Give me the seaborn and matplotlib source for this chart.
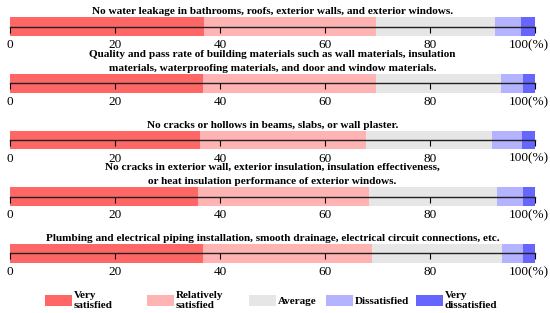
import numpy as np
import pandas as pd
import matplotlib
matplotlib.use("Agg")
import matplotlib.pyplot as plt
import matplotlib.transforms as mtransforms
from matplotlib.patches import Patch
import seaborn as sns

# satisfaction levels and colours
levels = ["Very\nsatisfied", "Relatively\nsatisfied", "Average", "Dissatisfied", "Very\ndissatisfied"]
colors = ["#FF6666", "#FFB3B3", "#E6E6E6", "#B3B3FF", "#6666FF"]

# item titles
titles = [
    "No water leakage in bathrooms, roofs, exterior walls, and exterior windows.",
    "Quality and pass rate of building materials such as wall materials, insulation\n"
    "materials, waterproofing materials, and door and window materials.",
    "No cracks or hollows in beams, slabs, or wall plaster.",
    "No cracks in exterior wall, exterior insulation, insulation effectiveness,\n"
    "or heat insulation performance of exterior windows.",
    "Plumbing and electrical piping installation, smooth drainage, electrical circuit connections, etc.",
]

# share of each level (%) per item
leakage = [37.0, 32.8, 22.6, 4.9, 2.7]
materials = [36.8, 33.0, 23.7, 4.3, 2.2]
cracks = [36.1, 31.8, 24.0, 5.6, 2.5]
exterior = [35.9, 32.4, 24.5, 5.0, 2.2]
plumbing = [36.8, 32.1, 24.8, 4.0, 2.3]
values = [leakage, materials, cracks, exterior, plumbing]

ticks = [0, 20, 40, 60, 80, 100]
tick_labels = ["0", "20", "40", "60", "80", "100(%)"]

plt.rcParams['font.family'] = ['Liberation Serif', 'DejaVu Serif']

fig = plt.figure(figsize=(5.5, 3.13), dpi=100)
W, H = 550, 313

for i, (title, vals) in enumerate(zip(titles, values)):
    top = 17.3 + 56.7 * i
    ax = fig.add_axes([10 / W, 1 - (top + 18.7) / H, 525 / W, 18.7 / H])
    df = pd.DataFrame({"level": levels, "cum": np.cumsum(vals), "row": [""] * 5})
    # draw longest cumulative bar first so shorter ones sit on top
    df = df.iloc[::-1]
    sns.barplot(data=df, x="cum", y="row", hue="level", hue_order=levels[::-1],
                palette=colors[::-1], orient="h", dodge=False, width=1,
                legend=False, ax=ax, saturation=1)
    ax.set_xlim(0, 100)
    ax.set_ylim(0.5, -0.5)
    for s in ["top", "left", "right"]:
        ax.spines[s].set_visible(False)
    ax.spines["bottom"].set_position(("axes", 0.5))
    ax.spines["bottom"].set_linewidth(1.0)
    ax.spines["bottom"].set_color("#222222")
    ax.set_xticks(ticks)
    ax.set_xticklabels(tick_labels)
    ax.tick_params(axis="x", direction="out", length=4, width=0.8, pad=5, labelsize=9.5)
    # nudge the last label left so "(%)" stays inside the figure
    last = ax.get_xticklabels()[-1]
    last.set_transform(last.get_transform() +
                       mtransforms.ScaledTranslation(-6 / 100, 0, fig.dpi_scale_trans))
    ax.set_yticks([])
    ax.set_xlabel("")
    ax.set_ylabel("")
    ax.set_title(title, fontsize=8.1, fontweight="bold", pad=2.2, linespacing=1.75)

# legend entries sit at uneven spacing in the original, so place each one
legend_x = [44.5, 146.5, 249, 326, 415.5]
for lx, c, lab in zip(legend_x, colors, levels):
    leg = fig.legend([Patch(facecolor=c, edgecolor="none")], [lab], loc="center left",
                     bbox_to_anchor=(lx / W, 1 - 300.5 / H), frameon=False,
                     prop={"weight": "bold", "size": 8}, borderpad=0, borderaxespad=0,
                     handlelength=2.45, handleheight=1.15, handletextpad=0.15)

fig.savefig("out.png", dpi=100)
